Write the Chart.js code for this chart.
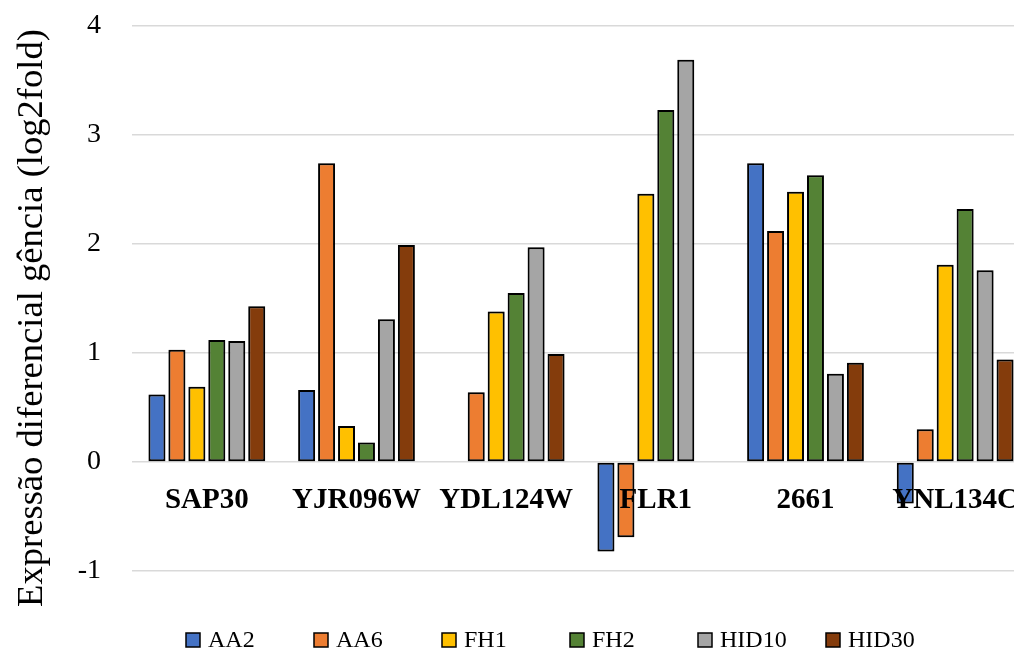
<!DOCTYPE html>
<html>
<head>
<meta charset="utf-8">
<script src="https://cdn.jsdelivr.net/npm/chart.js@4.4.1/dist/chart.umd.min.js"></script>
<style>
  html, body { margin: 0; padding: 0; background: #fff; overflow: hidden; }
  #wrap { width: 1030px; height: 651px; }
</style>
</head>
<body>
<div id="wrap"><canvas id="c"></canvas></div>
<script>
// Genes and log2 fold-change per condition
const genes = ['SAP30', 'YJR096W', 'YDL124W', 'FLR1', '2661', 'YNL134C'];
const aa2   = [0.62, 0.66, null, -0.82, 2.74, -0.38];
const aa6   = [1.03, 2.74, 0.64, -0.69, 2.12, 0.30];
const fh1   = [0.69, 0.33, 1.38, 2.46, 2.48, 1.81];
const fh2   = [1.12, 0.18, 1.55, 3.23, 2.63, 2.32];
const hid10 = [1.11, 1.31, 1.97, 3.69, 0.81, 1.76];
const hid30 = [1.43, 1.99, 0.99, null, 0.91, 0.94];
const seriesNames = ['AA2', 'AA6', 'FH1', 'FH2', 'HID10', 'HID30'];
const yMin = -1, yMax = 4;
const axisTitle = 'Expressão diferencial gência (log2fold)';

const colors = ['#4472C4', '#ED7D31', '#FFC000', '#548235', '#A5A5A5', '#843C0C'];
const values = [aa2, aa6, fh1, fh2, hid10, hid30];
const SERIF = '"Liberation Serif", "Times New Roman", serif';

// soft shadow behind each bar
const barShadow = {
  id: 'barShadow',
  beforeDatasetDraw(chart) {
    const ctx = chart.ctx;
    ctx.save();
    ctx.shadowColor = 'rgba(0,0,0,0.3)';
    ctx.shadowBlur = 3;
  },
  afterDatasetDraw(chart) { chart.ctx.restore(); }
};

// gene names written just under the zero line, over the bars
const categoryLabels = {
  id: 'categoryLabels',
  afterDatasetsDraw(chart) {
    const ctx = chart.ctx, x = chart.scales.x, y = chart.scales.y;
    const base = y.getPixelForValue(0) + 46;
    ctx.save();
    ctx.font = 'bold 29px ' + SERIF;
    ctx.fillStyle = '#000';
    ctx.textAlign = 'center';
    ctx.textBaseline = 'alphabetic';
    genes.forEach((g, i) => ctx.fillText(g, x.getPixelForValue(i), base));
    ctx.restore();
  }
};

// rotated y-axis title and an evenly spaced legend row
const extras = {
  id: 'extras',
  afterDraw(chart) {
    const ctx = chart.ctx;
    ctx.save();
    ctx.translate(42, 318);
    ctx.rotate(-Math.PI / 2);
    ctx.font = '36.6px ' + SERIF;
    ctx.fillStyle = '#000';
    ctx.textAlign = 'center';
    ctx.textBaseline = 'alphabetic';
    ctx.fillText(axisTitle, 0, 0);
    ctx.restore();

    ctx.save();
    ctx.font = '24px ' + SERIF;
    ctx.textBaseline = 'alphabetic';
    ctx.textAlign = 'left';
    chart.data.datasets.forEach((ds, i) => {
      const bx = 186 + i * 128;
      ctx.fillStyle = ds.backgroundColor;
      ctx.fillRect(bx, 633, 14, 14);
      ctx.strokeStyle = '#000';
      ctx.lineWidth = 1.5;
      ctx.strokeRect(bx, 633, 14, 14);
      ctx.fillStyle = '#000';
      ctx.fillText(ds.label, bx + 22, 647);
    });
    ctx.restore();
  }
};

new Chart(document.getElementById('c'), {
  type: 'bar',
  data: {
    labels: genes,
    datasets: seriesNames.map((name, i) => ({
      label: name,
      data: values[i],
      backgroundColor: colors[i],
      borderColor: '#000',
      borderWidth: 2,
      borderSkipped: false,
      categoryPercentage: 0.80,
      barPercentage: 0.85
    }))
  },
  options: {
    responsive: true,
    maintainAspectRatio: false,
    animation: false,
    layout: { padding: { top: 26, right: 0, bottom: 80, left: 0 } },
    plugins: { legend: { display: false }, tooltip: { enabled: false } },
    scales: {
      x: { display: false },
      y: {
        min: yMin, max: yMax,
        afterFit(s) { s.width = 132; },
        border: { display: false },
        grid: { color: '#d9d9d9', lineWidth: 1.5, drawTicks: true, tickLength: 31, tickColor: 'rgba(0,0,0,0)' },
        ticks: { stepSize: 1, padding: 0, color: '#000', font: { family: SERIF, size: 28 } }
      }
    }
  },
  plugins: [barShadow, categoryLabels, extras]
});
</script>
</body>
</html>
